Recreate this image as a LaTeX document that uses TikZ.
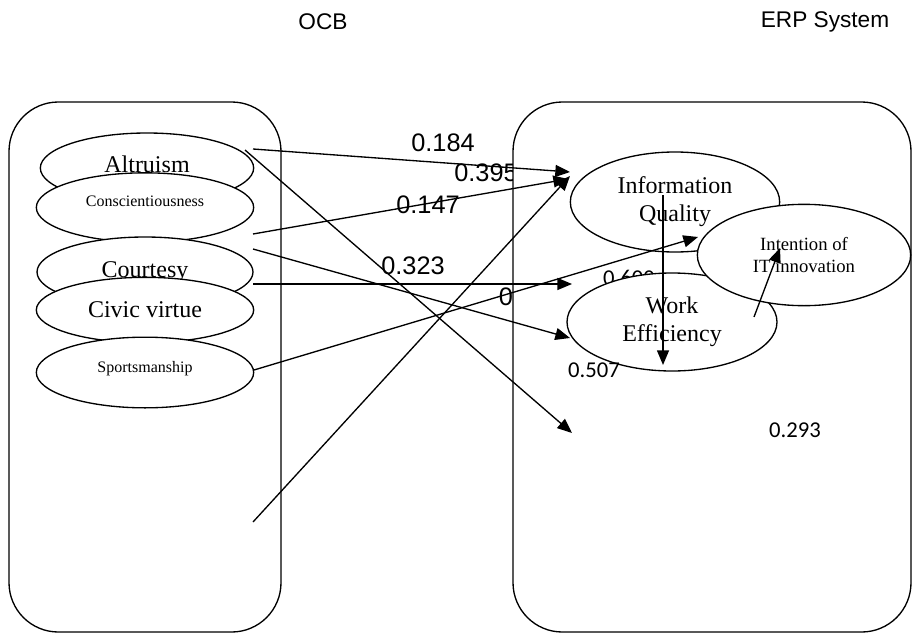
\documentclass[tikz,border=0pt]{standalone}
\usepackage{fontspec}
\setmainfont{Liberation Serif}
\newfontfamily\arialfont{Liberation Sans}
\newfontfamily\calfont{Carlito}
\usetikzlibrary{shapes.geometric,arrows.meta}

\begin{document}
\begin{tikzpicture}[x=0.75pt, y=-0.75pt,
    panel/.style={rectangle, draw, fill=white, line width=1pt, rounded corners=37pt},
    oval/.style={ellipse, draw, fill=white, line width=1pt, inner sep=0pt, align=center},
    bigtxt/.style={font=\fontsize{18}{21}\selectfont},
    smalltxt/.style={font=\fontsize{12}{14}\selectfont},
    title/.style={font=\arialfont\fontsize{17}{20}\selectfont},
    coef/.style={font=\arialfont\fontsize{19}{22}\selectfont, inner sep=0pt},
    coefb/.style={font=\calfont\fontsize{17}{20}\selectfont, inner sep=0pt},
    arrow/.style={-{Triangle[length=11pt,width=9pt]}, line width=1pt}]

    \useasboundingbox (0,0) rectangle (912,635);

    % Titles
    \node[title] (ocbtitle) at (323,22) {OCB};
    \node[title] (erptitle) at (825,22) {ERP System};

    % Path coefficients (some get covered by the right panel)
    \node[coef] (c184) at (443,143) {0.184};
    \node[coef] (c395) at (486,173) {0.395};
    \node[coef] (c147) at (428,205) {0.147};
    \node[coef] (c323) at (413,266) {0.323};
    \node[coef] (c0) at (506,297) {0};

    % Panels
    \node[panel, minimum width=204pt, minimum height=397.5pt] (ocb) at (145,367) {};
    \node[panel, minimum width=298.5pt, minimum height=397.5pt] (erp) at (712,367) {};

    \node[coefb] (c600) at (629,278) {0.600};

    % OCB dimensions
    \node[oval, bigtxt, text depth=5pt, minimum width=160pt, minimum height=52.5pt] (alt) at (147,168) {Altruism};
    \node[oval, smalltxt, text depth=10pt, minimum width=163pt, minimum height=52pt] (con) at (145,207.5) {Conscientiousness};
    \node[oval, bigtxt, minimum width=162pt, minimum height=52.5pt] (cou) at (145,272) {Courtesy};
    \node[oval, bigtxt, minimum width=163pt, minimum height=49pt] (civ) at (145,310) {Civic virtue};
    \node[oval, smalltxt, text depth=9pt, minimum width=163pt, minimum height=53pt] (spo) at (145,372.5) {Sportsmanship};

    % ERP outcomes
    \node[oval, bigtxt, minimum width=157pt, minimum height=75pt] (iq) at (675,202) {Information\\Quality};
    \node[oval, bigtxt, minimum width=157.5pt, minimum height=73.5pt] (we) at (672,322) {Work\\Efficiency};
    \node[oval, font=\fontsize{14}{16.5}\selectfont, minimum width=160pt, minimum height=76pt] (ii) at (804,255) {Intention of\\IT innovation};

    \node[coefb] (c507) at (594,370) {0.507};
    \node[coefb] (c293) at (795,430) {0.293};

    % Arrow ends
    \coordinate (alt-a) at (253,149);
    \coordinate (alt-b) at (245,150);
    \coordinate (con-a) at (253,234);
    \coordinate (cou-a) at (253,249);
    \coordinate (cou-b) at (253,284);
    \coordinate (spo-a) at (254,370);
    \coordinate (low-a) at (253,522);
    \coordinate (iq-in1) at (570,172);
    \coordinate (iq-in2) at (568,179);
    \coordinate (iq-in3) at (570,176);
    \coordinate (we-in) at (570,338);
    \coordinate (mid-in) at (572,284);
    \coordinate (low-in) at (572,433);
    \coordinate (ii-in) at (698,237);
    \coordinate (iq-out) at (663,195);
    \coordinate (we-end) at (663,365);
    \coordinate (we-out) at (754,317);
    \coordinate (ii-end) at (780,248);

    % Connect with arrows
    \draw[arrow] (alt-a) -- (iq-in1);
    \draw[arrow] (alt-b) -- (low-in);
    \draw[arrow] (con-a) -- (iq-in2);
    \draw[arrow] (cou-a) -- (we-in);
    \draw[arrow] (cou-b) -- (mid-in);
    \draw[arrow] (spo-a) -- (ii-in);
    \draw[arrow] (low-a) -- (iq-in3);
    \draw[arrow] (iq-out) -- (we-end);
    \draw[arrow] (we-out) -- (ii-end);
\end{tikzpicture}
\end{document}
